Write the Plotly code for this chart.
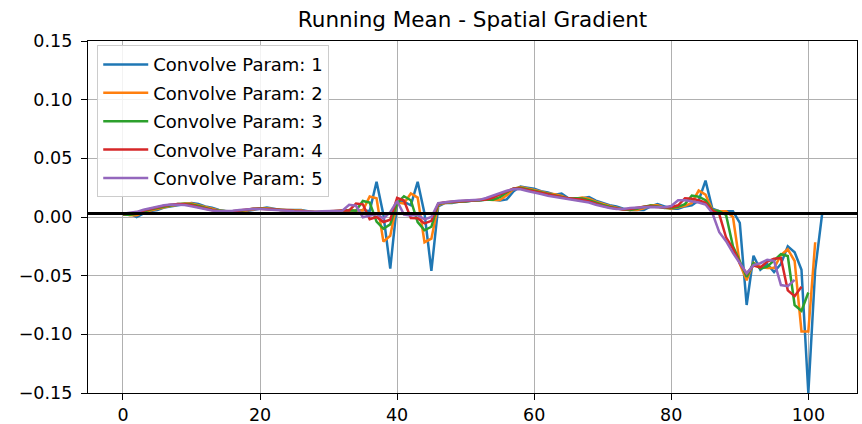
import plotly.graph_objects as go

# Running-mean curves of the spatial gradient
x_p1 = list(range(0, 103))
param1 = [0.003, 0.003, 0.000, 0.003, 0.005, 0.006, 0.008, 0.009, 0.010, 0.011,
          0.012, 0.011, 0.009, 0.008, 0.006, 0.005, 0.005, 0.004, 0.005, 0.006,
          0.007, 0.008, 0.007, 0.006, 0.006, 0.006, 0.006, 0.005, 0.004, 0.004,
          0.004, 0.005, 0.005, 0.006, 0.005, 0.006, 0.005, 0.030, 0.002, -0.044,
          0.012, 0.013, 0.010, 0.030, 0.003, -0.046, 0.009, 0.012, 0.012, 0.013,
          0.013, 0.014, 0.014, 0.015, 0.015, 0.014, 0.015, 0.022, 0.026, 0.025,
          0.024, 0.022, 0.021, 0.019, 0.020, 0.016, 0.015, 0.016, 0.017, 0.014,
          0.012, 0.010, 0.009, 0.007, 0.006, 0.006, 0.006, 0.009, 0.011, 0.009,
          0.007, 0.007, 0.009, 0.010, 0.014, 0.031, 0.007, 0.005, 0.005, 0.005,
          -0.005, -0.075, -0.033, -0.045, -0.040, -0.047, -0.040, -0.025, -0.030, -0.045,
          -0.150, -0.045, 0.002]

x_p2 = list(range(0, 102))
param2 = [0.0030, 0.0015, 0.0015, 0.0040, 0.0055, 0.0070, 0.0085, 0.0095, 0.0105, 0.0115,
          0.0115, 0.0100, 0.0085, 0.0070, 0.0055, 0.0050, 0.0045, 0.0045, 0.0055, 0.0065,
          0.0075, 0.0075, 0.0065, 0.0060, 0.0060, 0.0060, 0.0055, 0.0045, 0.0040, 0.0040,
          0.0045, 0.0050, 0.0055, 0.0055, 0.0055, 0.0055, 0.0175, 0.0160, -0.0210, -0.0160,
          0.0125, 0.0115, 0.0200, 0.0165, -0.0215, -0.0185, 0.0105, 0.0120, 0.0125, 0.0130,
          0.0135, 0.0140, 0.0145, 0.0150, 0.0145, 0.0145, 0.0185, 0.0240, 0.0255, 0.0245,
          0.0230, 0.0215, 0.0200, 0.0195, 0.0180, 0.0155, 0.0155, 0.0165, 0.0155, 0.0130,
          0.0110, 0.0095, 0.0080, 0.0065, 0.0060, 0.0060, 0.0075, 0.0100, 0.0100, 0.0080,
          0.0070, 0.0080, 0.0095, 0.0120, 0.0225, 0.0190, 0.0060, 0.0050, 0.0050, 0.0000,
          -0.0400, -0.0540, -0.0390, -0.0425, -0.0435, -0.0435, -0.0325, -0.0275, -0.0375, -0.0975,
          -0.0975, -0.0215]

x_p3 = list(range(0, 101))
param3 = [0.0020, 0.0020, 0.0027, 0.0047, 0.0063, 0.0077, 0.0090, 0.0100, 0.0110, 0.0113,
          0.0107, 0.0093, 0.0077, 0.0063, 0.0053, 0.0047, 0.0047, 0.0050, 0.0060, 0.0070,
          0.0073, 0.0070, 0.0063, 0.0060, 0.0060, 0.0057, 0.0050, 0.0043, 0.0040, 0.0043,
          0.0047, 0.0053, 0.0053, 0.0057, 0.0053, 0.0137, 0.0123, -0.0040, -0.0100, -0.0063,
          0.0117, 0.0177, 0.0143, -0.0043, -0.0113, -0.0083, 0.0110, 0.0123, 0.0127, 0.0133,
          0.0137, 0.0143, 0.0147, 0.0147, 0.0147, 0.0170, 0.0210, 0.0243, 0.0250, 0.0237,
          0.0223, 0.0207, 0.0200, 0.0183, 0.0170, 0.0157, 0.0160, 0.0157, 0.0143, 0.0120,
          0.0103, 0.0087, 0.0073, 0.0063, 0.0060, 0.0070, 0.0087, 0.0097, 0.0090, 0.0077,
          0.0077, 0.0087, 0.0110, 0.0183, 0.0173, 0.0143, 0.0057, 0.0050, 0.0017, -0.0250,
          -0.0377, -0.0510, -0.0393, -0.0440, -0.0423, -0.0373, -0.0317, -0.0333, -0.0750, -0.0800,
          -0.0643]

x_p4 = list(range(0, 100))
param4 = [0.0023, 0.0028, 0.0035, 0.0055, 0.0070, 0.0083, 0.0095, 0.0105, 0.0110, 0.0108,
          0.0100, 0.0085, 0.0070, 0.0060, 0.0050, 0.0048, 0.0050, 0.0055, 0.0065, 0.0070,
          0.0070, 0.0068, 0.0063, 0.0060, 0.0058, 0.0053, 0.0048, 0.0043, 0.0043, 0.0045,
          0.0050, 0.0053, 0.0055, 0.0055, 0.0115, 0.0108, -0.0018, 0.0000, -0.0043, -0.0023,
          0.0163, 0.0140, -0.0008, -0.0010, -0.0055, -0.0033, 0.0115, 0.0125, 0.0130, 0.0135,
          0.0140, 0.0145, 0.0145, 0.0148, 0.0165, 0.0193, 0.0220, 0.0243, 0.0243, 0.0230,
          0.0215, 0.0205, 0.0190, 0.0175, 0.0168, 0.0160, 0.0155, 0.0148, 0.0133, 0.0113,
          0.0095, 0.0080, 0.0070, 0.0063, 0.0068, 0.0080, 0.0088, 0.0090, 0.0085, 0.0080,
          0.0083, 0.0100, 0.0160, 0.0155, 0.0143, 0.0120, 0.0055, 0.0025, -0.0175, -0.0270,
          -0.0395, -0.0483, -0.0413, -0.0430, -0.0380, -0.0355, -0.0350, -0.0625, -0.0675, -0.0595]

x_p5 = list(range(0, 99))
param5 = [0.0028, 0.0034, 0.0044, 0.0062, 0.0076, 0.0088, 0.0100, 0.0106, 0.0106, 0.0102,
          0.0092, 0.0078, 0.0066, 0.0056, 0.0050, 0.0050, 0.0054, 0.0060, 0.0066, 0.0068,
          0.0068, 0.0066, 0.0062, 0.0058, 0.0054, 0.0050, 0.0046, 0.0044, 0.0044, 0.0048,
          0.0050, 0.0054, 0.0054, 0.0104, 0.0096, -0.0002, 0.0010, 0.0026, -0.0014, 0.0042,
          0.0136, 0.0020, 0.0012, 0.0016, -0.0020, 0.0000, 0.0118, 0.0128, 0.0132, 0.0138,
          0.0142, 0.0144, 0.0146, 0.0162, 0.0184, 0.0204, 0.0224, 0.0238, 0.0236, 0.0222,
          0.0212, 0.0196, 0.0182, 0.0172, 0.0168, 0.0156, 0.0148, 0.0138, 0.0124, 0.0104,
          0.0088, 0.0076, 0.0068, 0.0068, 0.0076, 0.0082, 0.0084, 0.0086, 0.0086, 0.0084,
          0.0094, 0.0142, 0.0142, 0.0134, 0.0124, 0.0106, 0.0034, -0.0130, -0.0206, -0.0306,
          -0.0396, -0.0480, -0.0410, -0.0394, -0.0364, -0.0374, -0.0580, -0.0590, -0.0536]

series_names = ["Convolve Param: 1", "Convolve Param: 2", "Convolve Param: 3",
                "Convolve Param: 4", "Convolve Param: 5"]
series_x = [x_p1, x_p2, x_p3, x_p4, x_p5]
series_y = [param1, param2, param3, param4, param5]
colors = ["#1f77b4", "#ff7f0e", "#2ca02c", "#d62728", "#9467bd"]

baseline_level = 0.003
x_ticks = [0, 20, 40, 60, 80, 100]
y_ticks = [-0.15, -0.10, -0.05, 0.00, 0.05, 0.10, 0.15]

FONT = "DejaVu Sans"

fig = go.Figure()
for i, (name, xs, ys, c) in enumerate(zip(series_names, series_x, series_y, colors)):
    fig.add_trace(go.Scatter(x=xs, y=ys, mode="lines", name=name,
                             line=dict(color=c, width=2.5),
                             legendgroup=f"g{i}"))

fig.add_hline(y=baseline_level, line=dict(color="black", width=3), layer="above")

axis_common = dict(showline=True, linecolor="black", linewidth=1.4, mirror=True,
                   ticks="outside", ticklen=6, tickwidth=1.4, tickcolor="black",
                   showgrid=True, gridcolor="#b0b0b0", gridwidth=1.4,
                   zeroline=False, automargin=False,
                   tickfont=dict(family=FONT, size=17.5, color="#000000"))

fig.update_layout(
    width=862, height=424,
    margin=dict(l=88, r=5, t=41, b=31),
    paper_bgcolor="white", plot_bgcolor="white",
    font=dict(family=FONT, size=18, color="black"),
    title=dict(text="Running Mean - Spatial Gradient", x=0.5, xref="paper",
               y=1 - 19 / 424, yref="container", xanchor="center", yanchor="middle",
               font=dict(family=FONT, size=21.5, color="black")),
    xaxis=dict(range=[-5.1, 107.1], tickvals=x_ticks, ticklabelstandoff=0, **axis_common),
    yaxis=dict(range=[-0.15, 0.15], tickvals=y_ticks, tickformat=".2f",
               ticklabelstandoff=5, **axis_common),
    showlegend=True,
    legend=dict(x=0.012, y=0.988, xanchor="left", yanchor="top",
                bgcolor="rgba(255,255,255,0.85)", bordercolor="#cccccc", borderwidth=1,
                font=dict(family=FONT, size=18, color="black"),
                traceorder="grouped", tracegroupgap=2, itemwidth=45),
)

fig.write_html("out.html")
